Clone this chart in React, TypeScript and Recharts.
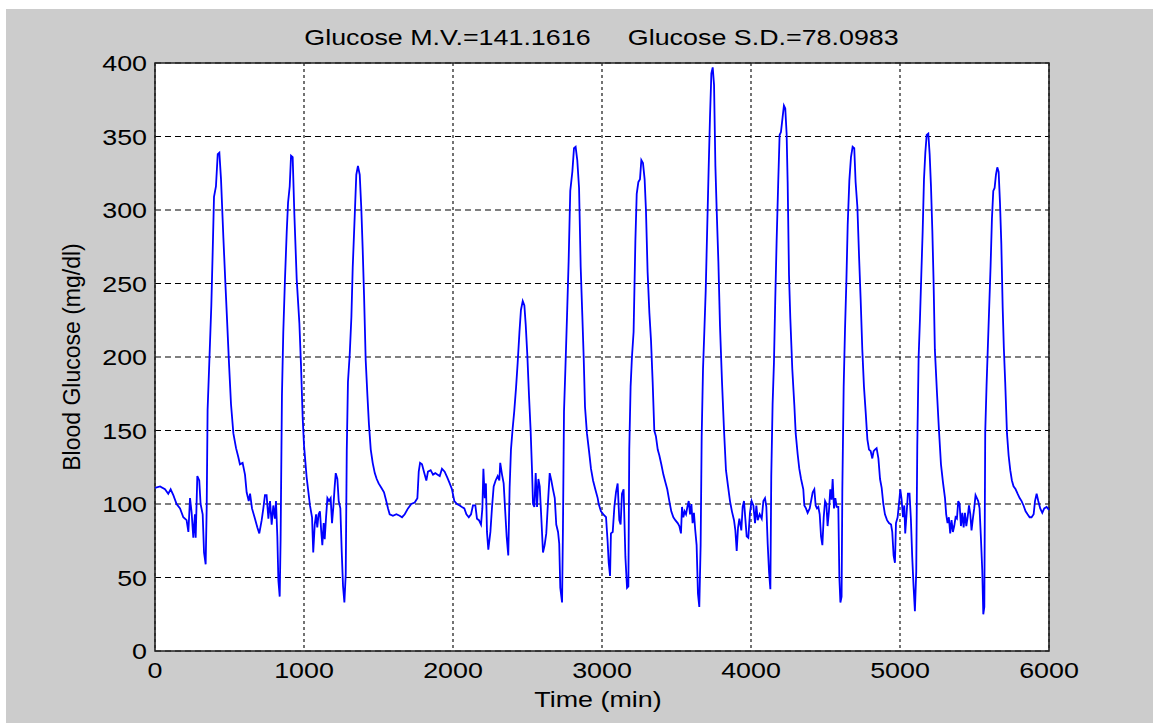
import { CartesianGrid, Line, LineChart, ReferenceArea, XAxis, YAxis } from 'recharts';

// minutes
const TIME_MIN = [
  0, 34, 67, 89, 105, 123, 145, 168, 190, 212, 224, 235, 246, 257, 268, 273, 284, 297, 306, 320,
  329, 340, 347, 353, 365, 378, 387, 396, 409, 421, 432, 443, 459, 472, 485, 497, 510, 526, 544, 559,
  570, 588, 604, 615, 629, 638, 651, 671, 687, 700, 716, 727, 738, 749, 761, 772, 783, 794, 805, 812,
  821, 828, 837, 843, 852, 861, 872, 884, 893, 904, 913, 924, 935, 951, 969, 980, 991, 1000, 1018, 1040,
  1054, 1062, 1072, 1081, 1089, 1098, 1107, 1116, 1123, 1132, 1139, 1148, 1157, 1168, 1179, 1188, 1197, 1206, 1213, 1224,
  1233, 1244, 1253, 1262, 1271, 1280, 1287, 1295, 1307, 1318, 1327, 1340, 1351, 1362, 1374, 1385, 1394, 1403, 1414, 1425,
  1436, 1448, 1461, 1475, 1488, 1501, 1519, 1537, 1552, 1564, 1575, 1597, 1620, 1642, 1658, 1676, 1698, 1720, 1743, 1761,
  1770, 1779, 1792, 1805, 1821, 1832, 1850, 1866, 1881, 1895, 1911, 1926, 1944, 1962, 1978, 1993, 2009, 2027, 2045, 2060,
  2076, 2090, 2106, 2121, 2134, 2150, 2161, 2174, 2188, 2197, 2204, 2213, 2221, 2228, 2237, 2251, 2262, 2273, 2286, 2300,
  2311, 2317, 2329, 2340, 2351, 2360, 2371, 2380, 2389, 2400, 2411, 2423, 2434, 2446, 2456, 2468, 2479, 2488, 2499, 2510,
  2521, 2530, 2537, 2546, 2555, 2564, 2573, 2582, 2593, 2604, 2615, 2626, 2638, 2649, 2660, 2671, 2683, 2693, 2705, 2713,
  2720, 2732, 2738, 2745, 2754, 2765, 2776, 2787, 2801, 2812, 2823, 2834, 2846, 2857, 2868, 2877, 2886, 2899, 2913, 2926,
  2940, 2955, 2971, 2978, 2993, 3009, 3027, 3038, 3045, 3054, 3060, 3072, 3083, 3094, 3105, 3116, 3125, 3134, 3145, 3157,
  3168, 3177, 3183, 3192, 3201, 3212, 3224, 3233, 3244, 3255, 3264, 3275, 3286, 3295, 3306, 3318, 3329, 3340, 3351, 3362,
  3374, 3385, 3398, 3412, 3425, 3438, 3452, 3465, 3479, 3492, 3508, 3519, 3530, 3537, 3546, 3555, 3564, 3573, 3582, 3591,
  3600, 3608, 3617, 3626, 3635, 3644, 3653, 3662, 3669, 3678, 3687, 3696, 3705, 3716, 3725, 3734, 3743, 3752, 3761, 3770,
  3781, 3792, 3805, 3819, 3832, 3846, 3859, 3872, 3886, 3895, 3904, 3913, 3922, 3935, 3944, 3953, 3962, 3971, 3982, 3993,
  4004, 4016, 4027, 4036, 4045, 4058, 4072, 4083, 4094, 4103, 4112, 4121, 4130, 4136, 4145, 4154, 4163, 4172, 4183, 4192,
  4201, 4212, 4221, 4230, 4239, 4246, 4255, 4264, 4277, 4291, 4300, 4313, 4324, 4336, 4351, 4358, 4369, 4380, 4394, 4403,
  4414, 4425, 4434, 4443, 4452, 4461, 4470, 4479, 4488, 4497, 4506, 4514, 4523, 4532, 4541, 4548, 4557, 4566, 4575, 4586,
  4593, 4600, 4608, 4613, 4622, 4631, 4640, 4649, 4660, 4671, 4682, 4693, 4702, 4714, 4725, 4736, 4747, 4758, 4770, 4781,
  4792, 4803, 4814, 4823, 4832, 4843, 4855, 4866, 4877, 4888, 4899, 4913, 4926, 4940, 4948, 4957, 4966, 4973, 4984, 4993,
  5002, 5011, 5020, 5029, 5035, 5044, 5053, 5064, 5073, 5082, 5091, 5100, 5109, 5116, 5125, 5134, 5143, 5152, 5161, 5170,
  5179, 5190, 5199, 5208, 5217, 5225, 5234, 5248, 5261, 5275, 5288, 5302, 5310, 5319, 5328, 5337, 5346, 5355, 5364, 5373,
  5382, 5391, 5400, 5409, 5418, 5427, 5436, 5445, 5454, 5463, 5472, 5480, 5489, 5498, 5507, 5516, 5525, 5534, 5543, 5552,
  5559, 5566, 5572, 5581, 5590, 5599, 5608, 5617, 5626, 5635, 5644, 5653, 5662, 5671, 5680, 5689, 5697, 5706, 5718, 5729,
  5740, 5751, 5762, 5776, 5789, 5803, 5816, 5829, 5843, 5856, 5870, 5883, 5897, 5906, 5917, 5928, 5941, 5955, 5968, 5984,
  6000
];

// mg/dl
const GLUCOSE = [
  111, 112, 110, 107, 110, 106, 100, 97, 91, 89, 81, 104, 94, 77, 93, 77, 119, 116, 100, 93,
  67, 59, 98, 164, 198, 235, 271, 309, 316, 338, 339, 321, 281, 251, 222, 195, 168, 148, 138, 132,
  127, 128, 120, 108, 102, 107, 97, 90, 84, 80, 89, 97, 106, 106, 90, 102, 86, 99, 90, 102,
  78, 48, 37, 76, 174, 217, 252, 285, 305, 316, 337, 336, 298, 253, 223, 194, 159, 140, 118, 99,
  91, 67, 86, 93, 84, 93, 95, 81, 72, 87, 76, 91, 104, 102, 104, 87, 98, 112, 121, 117,
  102, 97, 68, 44, 33, 52, 136, 183, 202, 227, 261, 295, 324, 330, 324, 300, 273, 242, 198, 175,
  154, 137, 128, 121, 117, 114, 111, 108, 102, 97, 93, 92, 93, 92, 91, 93, 97, 100, 101, 104,
  122, 128, 127, 122, 116, 122, 123, 120, 121, 120, 119, 124, 122, 118, 114, 110, 102, 100, 99, 98,
  97, 93, 91, 93, 99, 99, 90, 89, 86, 97, 124, 104, 114, 81, 69, 81, 98, 112, 116, 119,
  116, 128, 120, 114, 94, 78, 65, 111, 137, 151, 163, 179, 196, 217, 232, 238, 235, 222, 201, 174,
  150, 124, 100, 98, 121, 98, 117, 112, 90, 67, 72, 80, 102, 121, 116, 110, 104, 86, 81, 73,
  43, 33, 84, 163, 191, 227, 265, 313, 326, 342, 343, 334, 315, 261, 228, 200, 166, 148, 136, 124,
  116, 110, 104, 100, 95, 93, 91, 74, 60, 51, 80, 81, 98, 108, 114, 89, 86, 107, 110, 64,
  43, 44, 137, 180, 200, 217, 279, 311, 319, 321, 334, 332, 321, 300, 258, 230, 211, 183, 150, 146,
  137, 133, 127, 120, 115, 110, 102, 95, 91, 89, 87, 85, 80, 98, 91, 95, 93, 98, 102, 93,
  100, 87, 94, 82, 72, 39, 30, 72, 146, 192, 218, 245, 283, 329, 364, 393, 397, 385, 330, 299,
  265, 221, 184, 150, 123, 112, 102, 95, 89, 82, 68, 84, 90, 82, 98, 102, 90, 78, 77, 94,
  102, 99, 87, 99, 89, 93, 90, 102, 104, 98, 73, 54, 42, 119, 168, 196, 240, 279, 320, 351,
  353, 363, 371, 369, 352, 319, 256, 226, 192, 167, 148, 134, 124, 117, 110, 99, 97, 94, 97, 102,
  108, 110, 99, 97, 98, 93, 78, 72, 91, 102, 100, 85, 95, 110, 103, 117, 97, 104, 98, 98,
  50, 33, 37, 110, 180, 219, 251, 290, 320, 336, 343, 342, 319, 302, 269, 239, 205, 180, 162, 144,
  137, 136, 131, 136, 137, 138, 131, 117, 111, 100, 93, 89, 87, 86, 81, 65, 60, 87, 91, 100,
  110, 103, 91, 99, 80, 93, 107, 107, 90, 64, 44, 27, 54, 140, 200, 226, 256, 285, 321, 339,
  351, 352, 338, 316, 286, 253, 205, 176, 151, 127, 115, 104, 93, 87, 91, 80, 89, 81, 85, 91,
  90, 102, 100, 85, 94, 84, 94, 85, 91, 99, 93, 82, 90, 97, 106, 104, 102, 97, 77, 55,
  25, 30, 149, 181, 208, 235, 262, 294, 313, 315, 324, 329, 326, 305, 277, 234, 206, 183, 148, 133,
  123, 116, 112, 110, 107, 104, 102, 99, 95, 93, 91, 91, 93, 102, 107, 102, 97, 94, 97, 98,
  96
];

const X_TICKS = [0, 1000, 2000, 3000, 4000, 5000, 6000];
const Y_TICKS = [0, 50, 100, 150, 200, 250, 300, 350, 400];

const TITLE = 'Glucose M.V.=141.1616     Glucose S.D.=78.0983';
const X_LABEL = 'Time (min)';
const Y_LABEL = 'Blood Glucose (mg/dl)';

const data = TIME_MIN.map((t, i) => ({ t, glucose: GLUCOSE[i] }));

const FONT = '"Liberation Sans", Arial, sans-serif';
const STRETCH = 'scale(1.22,1)';

function XTick({ x, y, payload }: any) {
  return (
    <text
      transform={`translate(${x},${y + 27}) ${STRETCH}`}
      textAnchor="middle"
      fontSize={22}
      fontFamily={FONT}
      fill="#000"
    >
      {payload.value}
    </text>
  );
}

function YTick({ x, y, payload }: any) {
  return (
    <text
      transform={`translate(${x - 8},${y + 8}) ${STRETCH}`}
      textAnchor="end"
      fontSize={22}
      fontFamily={FONT}
      fill="#000"
    >
      {payload.value}
    </text>
  );
}

export default function App() {
  return (
    <div style={{ position: 'absolute', left: 0, top: 0, width: 1153, height: 723, background: '#fff', overflow: 'hidden' }}>
      <div style={{ position: 'absolute', left: 6, top: 9, width: 1147, height: 714, background: '#cccccc' }} />
      <div style={{ position: 'absolute', left: 0, top: 0 }}>
        <LineChart width={1153} height={723} data={data} margin={{ top: 63, right: 104, bottom: 0, left: 0 }}>
          {/* matlab style: dashed rows, dotted columns */}
          <CartesianGrid horizontal vertical={false} fill="#fff" stroke="#000" strokeWidth={1.1} strokeDasharray="6 4" />
          <CartesianGrid horizontal={false} vertical stroke="#000" strokeWidth={1.1} strokeDasharray="3 3" />
          <XAxis
            dataKey="t"
            type="number"
            domain={[0, 6000]}
            ticks={X_TICKS}
            height={72}
            tickSize={0}
            tickMargin={0}
            axisLine={false}
            tickLine={false}
            tick={<XTick />}
            interval={0}
          />
          <YAxis
            type="number"
            domain={[0, 400]}
            ticks={Y_TICKS}
            width={155}
            tickSize={0}
            tickMargin={0}
            axisLine={false}
            tickLine={false}
            tick={<YTick />}
            interval={0}
          />
          <ReferenceArea x1={0} x2={6000} y1={0} y2={400} fill="none" stroke="#222" strokeWidth={1.6} />
          <Line
            type="linear"
            dataKey="glucose"
            stroke="#0000ff"
            strokeWidth={1.8}
            dot={false}
            isAnimationActive={false}
          />
        </LineChart>
      </div>
      <div
        style={{
          position: 'absolute', left: 0, top: 26, width: 1203, textAlign: 'center',
          fontFamily: FONT, fontSize: 22, lineHeight: '24px', whiteSpace: 'pre',
          transform: 'scaleX(1.22)', color: '#000'
        }}
      >
        {TITLE}
      </div>
      <div
        style={{
          position: 'absolute', left: 0, top: 688, width: 1196, textAlign: 'center',
          fontFamily: FONT, fontSize: 22, lineHeight: '24px',
          transform: 'scaleX(1.22)', color: '#000'
        }}
      >
        {X_LABEL}
      </div>
      <div
        style={{
          position: 'absolute', left: 72 - 150, top: 357 - 12, width: 300, textAlign: 'center',
          fontFamily: FONT, fontSize: 23, lineHeight: '24px',
          transform: 'rotate(-90deg)', color: '#000'
        }}
      >
        {Y_LABEL}
      </div>
    </div>
  );
}
